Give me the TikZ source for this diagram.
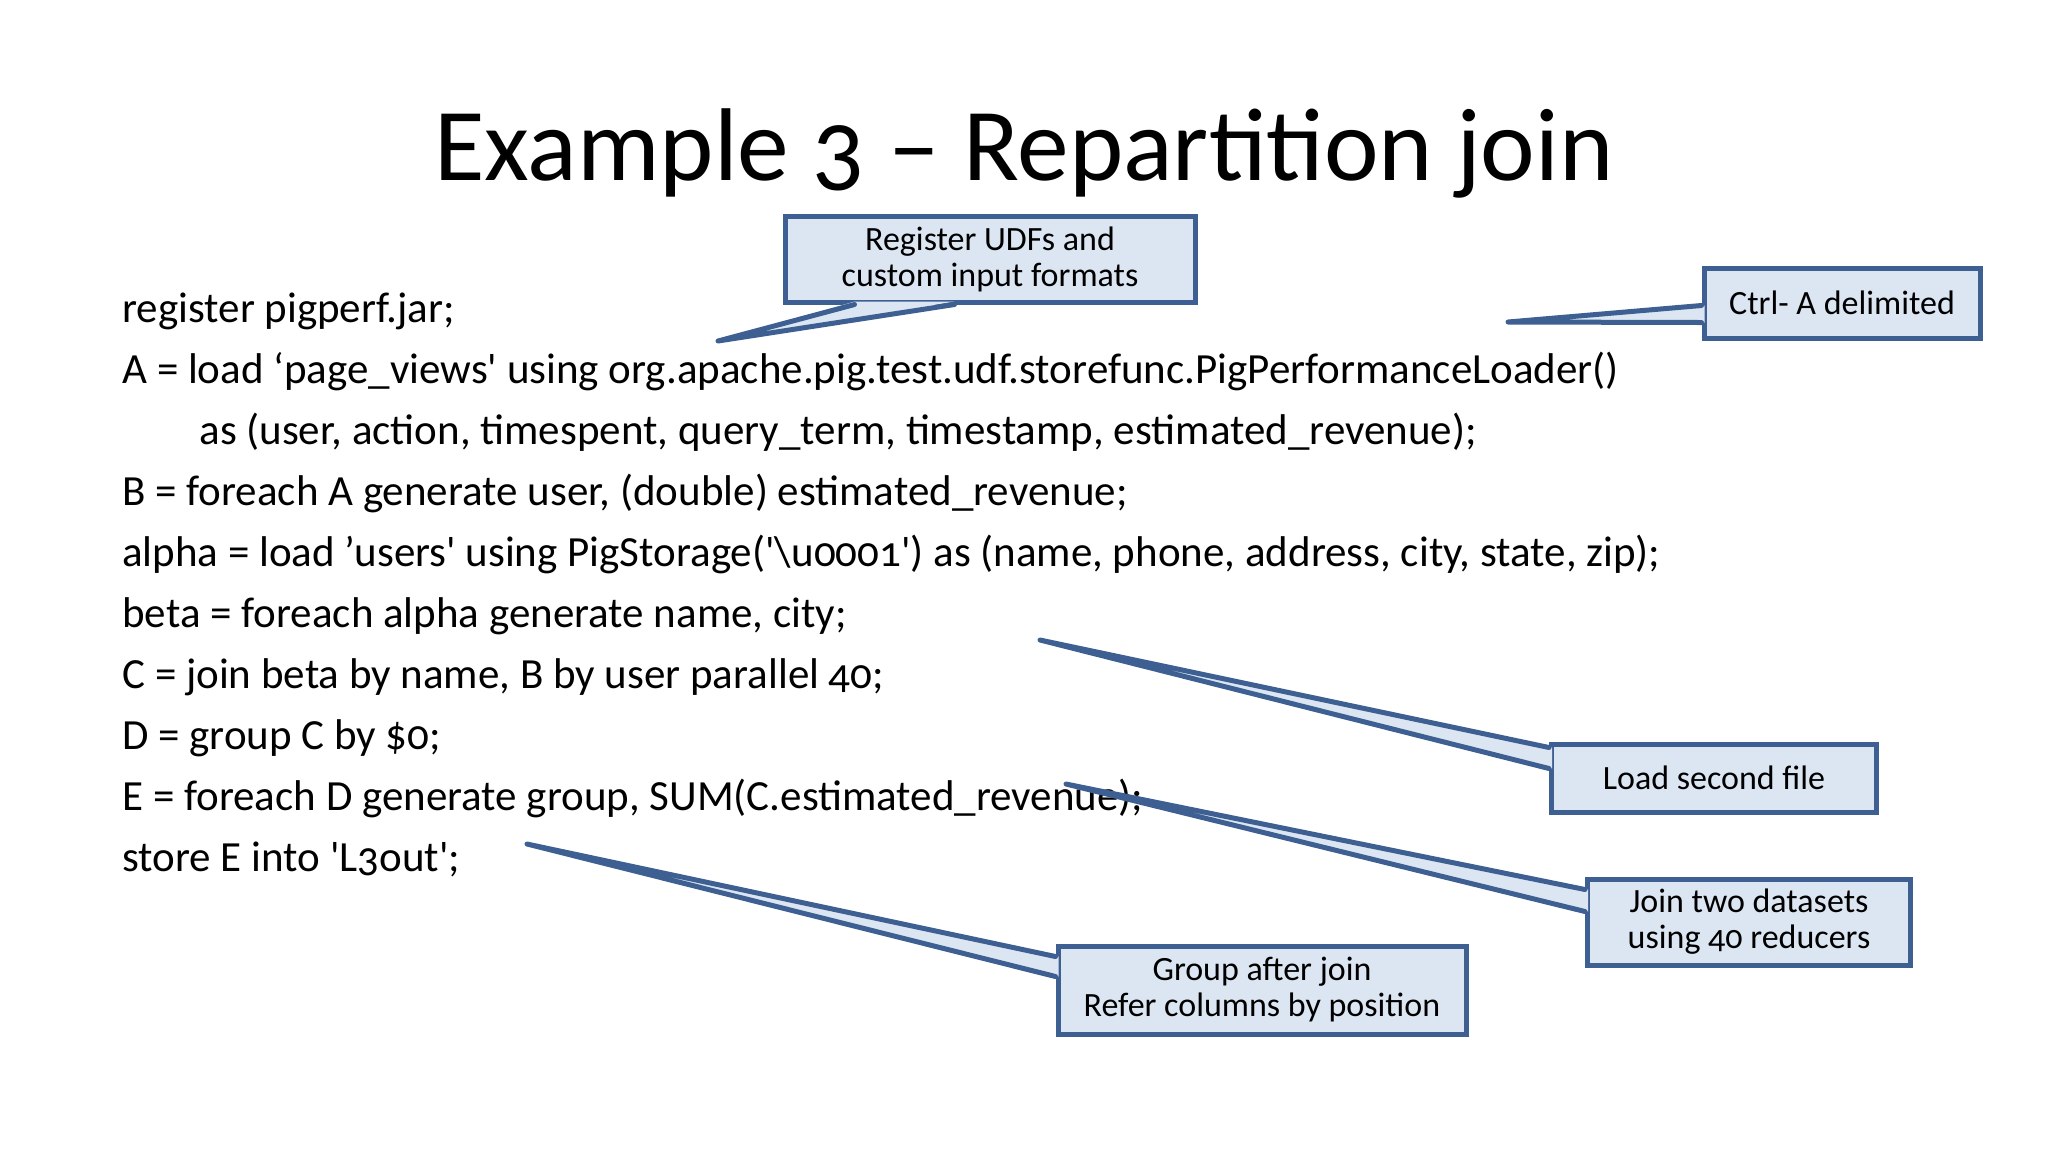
\documentclass[tikz,border=0pt]{standalone}
\usepackage{fontspec}
\setmainfont{Carlito}[Numbers=OldStyle]
\usetikzlibrary{calc}
\definecolor{callfill}{HTML}{DCE6F2}
\definecolor{callline}{HTML}{3D5F92}
\tikzset{
  callout/.style={draw=callline,fill=callfill,line width=2.5pt,align=center,
    font=\fontsize{17}{18}\selectfont,inner sep=0pt},
  code/.style={anchor=base west,inner sep=0pt,font=\fontsize{21.5}{24}\selectfont},
  pointer/.style={draw=callline,line width=2.5pt,line join=round,line cap=round}
}
\begin{document}
\begin{tikzpicture}[x=0.5pt,y=-0.5pt]
  \useasboundingbox (0,0) rectangle (2048,1152);
  \node[anchor=base,inner sep=0pt,font=\fontsize{51.7}{54}\selectfont] (title) at (1024,180) {Example 3 -- Repartition join};

  % code lines
  \node[code] (l1) at (122,322) {register pigperf.jar;};
  \node[code] (l2) at (122,383) {A = load `page\_views\textquotesingle{} using org.apache.pig.test.udf.storefunc.PigPerformanceLoader()};
  \node[code] (l3) at (199,444) {as (user, action, timespent, query\_term, timestamp, estimated\_revenue);};
  \node[code] (l4) at (122,505) {B = foreach A generate user, (double) estimated\_revenue;};
  \node[code] (l5) at (122,566) {alpha = load 'users\textquotesingle{} using PigStorage(\textquotesingle\textbackslash u0001\textquotesingle) as (name, phone, address, city, state, zip);};
  \node[code] (l6) at (122,627) {beta = foreach alpha generate name, city;};
  \node[code] (l7) at (122,688) {C = join beta by name, B by user parallel 40;};
  \node[code] (l8) at (122,749) {D = group C by \$0;};
  \node[code] (l9) at (122,810) {E = foreach D generate group, SUM(C.estimated\_revenue);};
  \node[code] (l10) at (122,871) {store E into \textquotesingle L3out\textquotesingle;};

  % callout boxes
  \node[callout,minimum width=205pt,minimum height=43pt] (udf) at (990,259) {Register UDFs and\\custom input formats};
  \node[callout,minimum width=138pt,minimum height=35pt] (ctrl) at (1842,303) {Ctrl- A delimited};
  \node[callout,minimum width=162.5pt,minimum height=34pt] (load) at (1714,778) {Load second file};
  \node[callout,minimum width=161.5pt,minimum height=43pt] (jn) at (1749,922) {Join two datasets\\using 40 reducers};
  \node[callout,minimum width=204pt,minimum height=44pt] (grp) at (1262,990) {Group after join\\Refer columns by position};

  % pointer tips
  \coordinate (tudf) at (718,341);
  \coordinate (tctrl) at (1508,322);
  \coordinate (tload) at (1040,640);
  \coordinate (tjn) at (1066,784);
  \coordinate (tgrp) at (527,844);

  \fill[callfill] ($(udf.south west)+(72,-3)$) -- (tudf) -- ($(udf.south west)+(172,-3)$) -- cycle;
  \draw[pointer] ($(udf.south west)+(72,0)$) -- (tudf) -- ($(udf.south west)+(172,0)$);
  \fill[callfill] ($(ctrl.north west)+(3,40)$) -- (tctrl) -- ($(ctrl.north west)+(3,57)$) -- cycle;
  \draw[pointer] ($(ctrl.north west)+(0,40)$) -- (tctrl) -- ($(ctrl.north west)+(0,57)$);
  \fill[callfill] ($(load.north west)+(3,6)$) -- (tload) -- ($(load.north west)+(3,27)$) -- cycle;
  \draw[pointer] ($(load.north west)+(0,6)$) -- (tload) -- ($(load.north west)+(0,27)$);
  \fill[callfill] ($(jn.north west)+(3,13)$) -- (tjn) -- ($(jn.north west)+(3,35)$) -- cycle;
  \draw[pointer] ($(jn.north west)+(0,13)$) -- (tjn) -- ($(jn.north west)+(0,35)$);
  \fill[callfill] ($(grp.north west)+(3,13)$) -- (tgrp) -- ($(grp.north west)+(3,33)$) -- cycle;
  \draw[pointer] ($(grp.north west)+(0,13)$) -- (tgrp) -- ($(grp.north west)+(0,33)$);
\end{tikzpicture}
\end{document}
